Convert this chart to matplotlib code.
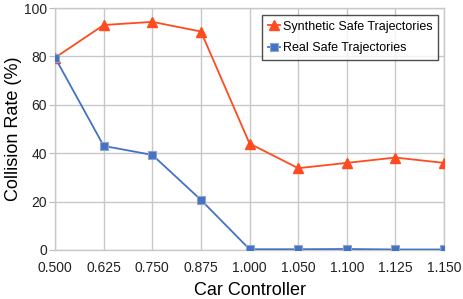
import matplotlib
matplotlib.use("Agg")
import matplotlib.pyplot as plt

plt.rcParams['font.family'] = ['Liberation Sans', 'DejaVu Sans']

categories = ["0.500", "0.625", "0.750", "0.875", "1.000", "1.050", "1.100", "1.125", "1.150"]
synthetic = [79.5, 93.0, 94.3, 90.3, 44.0, 33.8, 36.0, 38.2, 36.0]
real = [79.5, 43.0, 39.3, 20.7, 0.3, 0.3, 0.4, 0.2, 0.2]

fig = plt.figure(figsize=(4.63, 2.99), dpi=100)
ax = fig.add_axes([0.119, 0.164, 0.840, 0.809])

x = list(range(len(categories)))
ax.plot(x, synthetic, color='#FF4B1F', lw=1.3, marker='^', ms=7,
        markeredgecolor='#FF4B1F', label='Synthetic Safe Trajectories', zorder=3)
ax.plot(x, real, color='#4472C4', lw=1.3, marker='s', ms=6,
        markeredgecolor='#8FA4C8', markeredgewidth=0.8, label='Real Safe Trajectories', zorder=3)

ax.set_xlim(0, len(categories) - 1)
ax.set_ylim(0, 100)
ax.set_xticks(x)
ax.set_xticklabels(categories, fontsize=10)
ax.set_yticks([0, 20, 40, 60, 80, 100])
ax.tick_params(axis='y', labelsize=10, length=4, color='#BBBBBB', pad=2, labelcolor='#222222')
ax.tick_params(axis='x', length=0, pad=8, labelcolor='#222222')
ax.grid(True, color='#C8C8C8', lw=1)
ax.set_axisbelow(True)
for s in ax.spines.values():
    s.set_color('#C8C8C8')
    s.set_linewidth(1)

ax.set_xlabel('Car Controller', fontsize=13, labelpad=5)
ax.set_ylabel('Collision Rate (%)', fontsize=13, labelpad=1)

leg = ax.legend(loc='upper right', fontsize=9, frameon=True, fancybox=False,
                edgecolor='#222222', handlelength=1.0, handletextpad=0.2,
                borderpad=0.45, labelspacing=0.75, borderaxespad=0,
                bbox_to_anchor=(0.985, 0.971))
leg.get_frame().set_linewidth(1.0)

fig.savefig('out.png', dpi=100)
